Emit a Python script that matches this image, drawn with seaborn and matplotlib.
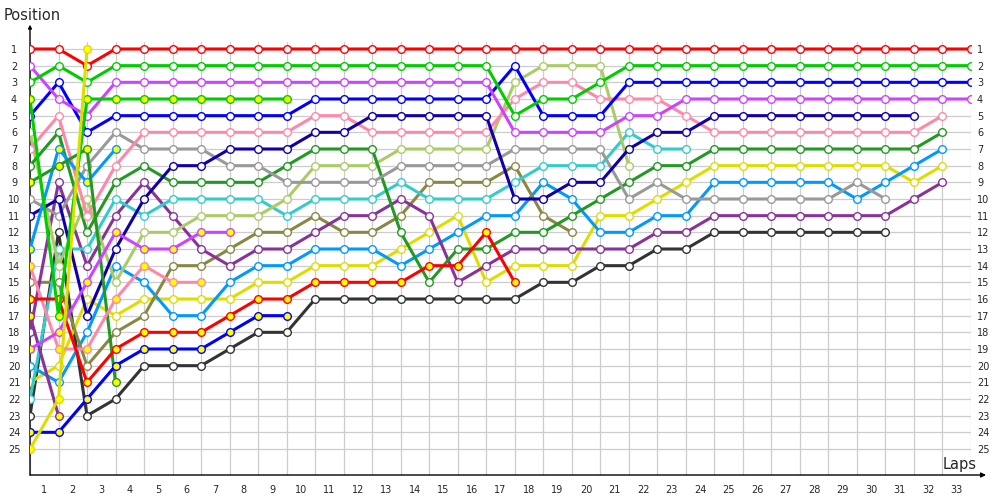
import matplotlib
matplotlib.use('Agg')
import matplotlib.pyplot as plt
import seaborn as sns
import numpy as np

# position of each car after every lap, index 0 = starting grid
red_h = [1, 1, 2, 1, 1, 1, 1, 1, 1, 1, 1, 1, 1, 1, 1, 1, 1, 1, 1, 1, 1, 1, 1, 1, 1, 1, 1, 1, 1, 1, 1, 1, 1, 1]
green_h = [3, 2, 3, 2, 2, 2, 2, 2, 2, 2, 2, 2, 2, 2, 2, 2, 2, 5, 4, 4, 3, 2, 2, 2, 2, 2, 2, 2, 2, 2, 2, 2, 2, 2]
violet_h = [2, 4, 5, 3, 3, 3, 3, 3, 3, 3, 3, 3, 3, 3, 3, 3, 3, 6, 6, 6, 6, 5, 5, 4, 4, 4, 4, 4, 4, 4, 4, 4, 4, 4]
blue_h = [5, 3, 6, 5, 5, 5, 5, 5, 5, 5, 4, 4, 4, 4, 4, 4, 4, 2, 5, 5, 5, 3, 3, 3, 3, 3, 3, 3, 3, 3, 3, 3, 3, 3]
navy_h = [11, 10, 17, 13, 10, 8, 8, 7, 7, 7, 6, 6, 5, 5, 5, 5, 5, 10, 10, 9, 9, 7, 6, 6, 5, 5, 5, 5, 5, 5, 5, 5]
pink_h = [7, 5, 11, 8, 6, 6, 6, 6, 6, 6, 5, 5, 6, 6, 6, 6, 6, 4, 3, 3, 4, 4, 4, 5, 6, 6, 6, 6, 6, 6, 6, 6, 5]
gray_h = [10, 11, 8, 6, 7, 7, 7, 8, 8, 9, 9, 9, 9, 8, 8, 8, 8, 7, 7, 7, 7, 10, 9, 10, 10, 10, 10, 10, 10, 9, 10]
forest_h = [8, 6, 12, 9, 8, 9, 9, 9, 9, 8, 7, 7, 7, 12, 15, 13, 13, 12, 12, 11, 10, 9, 8, 8, 7, 7, 7, 7, 7, 7, 7, 7, 6]
lolive_h = [6, 14, 10, 15, 12, 12, 11, 11, 11, 10, 8, 8, 8, 7, 7, 7, 7, 3, 2, 2, 2, 8]
cyan_h = [22, 13, 13, 10, 11, 10, 10, 10, 10, 11, 10, 10, 10, 9, 10, 10, 10, 9, 8, 8, 8, 6, 7, 7]
purple_h = [18, 9, 14, 11, 9, 11, 13, 14, 13, 13, 12, 11, 11, 10, 11, 15, 14, 13, 13, 13, 13, 13, 12, 12, 11, 11, 11, 11, 11, 11, 11, 10, 9]
olive_h = [15, 15, 20, 18, 17, 14, 14, 13, 12, 12, 11, 12, 12, 11, 9, 9, 9, 8, 11, 12]
lblue_h = [20, 21, 18, 14, 15, 17, 17, 15, 14, 14, 13, 13, 13, 14, 13, 12, 11, 11, 9, 10, 12, 12, 11, 11, 9, 9, 9, 9, 9, 10, 9, 8, 7]
yellow_h = [21, 20, 16, 17, 16, 16, 16, 16, 15, 15, 14, 14, 14, 13, 12, 11, 15, 14, 14, 14, 11, 11, 10, 9, 8, 8, 8, 8, 8, 8, 8, 9, 8]
black_h = [23, 12, 23, 22, 20, 20, 20, 19, 18, 18, 16, 16, 16, 16, 16, 16, 16, 16, 15, 15, 14, 14, 13, 13, 12, 12, 12, 12, 12, 12, 12]

red_y = [16, 16, 21, 19, 18, 18, 18, 17, 16, 16, 15, 15, 15, 15, 14, 14, 12, 15]
green_y = [4, 17, 4, 4, 4, 4, 4, 4, 4, 4]
violet_y = [19, 18, 15, 12, 13, 13, 12, 12]
blue_y = [24, 24, 22, 20, 19, 19, 19, 18, 17, 17]
pink_y = [14, 19, 19, 16, 14, 15, 15]
forest_y = [9, 8, 7, 21]
lblue_y = [13, 7, 9, 7]
yellow_y = [25, 22, 1]
purple_y = [17, 23]

lap_labels = [str(i) for i in range(1, 34)]
pos_labels = [str(i) for i in range(1, 26)]

WHITE = 'white'
YEL = '#ffff00'
cars = [
    (black_h, '#333333', WHITE), (yellow_h, '#dddd00', WHITE), (lblue_h, '#0099ff', WHITE),
    (olive_h, '#888844', WHITE), (purple_h, '#883399', WHITE), (cyan_h, '#33cccc', WHITE),
    (lolive_h, '#aacc66', WHITE), (forest_h, '#229922', WHITE), (gray_h, '#999999', WHITE),
    (pink_h, '#ff88aa', WHITE), (navy_h, '#1100aa', WHITE), (blue_h, '#0000ff', WHITE),
    (violet_h, '#cc44ff', WHITE), (green_h, '#00cc00', WHITE), (red_h, '#ff0000', WHITE),
    (purple_y, '#883399', YEL), (lblue_y, '#0099ff', YEL), (forest_y, '#229922', YEL),
    (pink_y, '#ff88aa', YEL), (blue_y, '#0000ff', YEL), (violet_y, '#cc44ff', YEL),
    (red_y, '#ff0000', YEL), (green_y, '#00cc00', YEL), (yellow_y, '#dddd00', YEL),
]

sns.set_style('white')
plt.rcParams['font.family'] = ['DejaVu Sans']

fig = plt.figure(figsize=(10, 5), dpi=100)
ax = fig.add_axes([0.03, 0.05, 0.941, 0.866])

for pos, col, face in cars:
    sns.lineplot(x=np.arange(len(pos)), y=pos, ax=ax, color=col, lw=2.2,
                 marker='o', markersize=5.5, markerfacecolor=face,
                 markeredgecolor=col, markeredgewidth=1.0)

ax.set_xlim(0, 33)
ax.set_ylim(26.56, 0.58)
ax.set_xlabel('')
ax.set_ylabel('')

ax.set_xticks(np.arange(0, 34))
ax.set_xticklabels([])
ax.set_xticks(np.arange(0.5, 33), minor=True)
ax.set_xticklabels(lap_labels, minor=True)
ax.tick_params(axis='x', which='both', length=0, labelsize=7, pad=7.5)

ax.set_yticks(np.arange(1, 26))
ax.set_yticklabels(pos_labels)
ax.tick_params(axis='y', length=0, labelsize=7, pad=11.5)
for lbl in ax.get_yticklabels():
    lbl.set_ha('center')

sec = ax.secondary_yaxis('right')
sec.set_yticks(np.arange(1, 26))
sec.set_yticklabels(pos_labels)
sec.tick_params(length=0, labelsize=7, pad=4.3)
sec.spines['right'].set_visible(False)

ax.grid(True, which='major', color='#cccccc', lw=0.9)
ax.set_axisbelow(True)
for s in ax.spines.values():
    s.set_visible(False)

ax.annotate('', xy=(0, 1.04), xytext=(0, 0), xycoords='axes fraction',
            arrowprops=dict(arrowstyle='-|>', color='black', lw=1, mutation_scale=5,
                            shrinkA=0, shrinkB=0), zorder=1)
ax.annotate('', xy=(1.016, 0), xytext=(0, 0), xycoords='axes fraction',
            arrowprops=dict(arrowstyle='-|>', color='black', lw=1, mutation_scale=7,
                            shrinkA=0, shrinkB=0), zorder=1)

fig.text(0.004, 0.97, 'Position', fontsize=10.5, va='center', ha='left')
fig.text(0.96, 0.07, 'Laps', fontsize=10.5, va='center', ha='center')

fig.savefig('out.png', dpi=100)
